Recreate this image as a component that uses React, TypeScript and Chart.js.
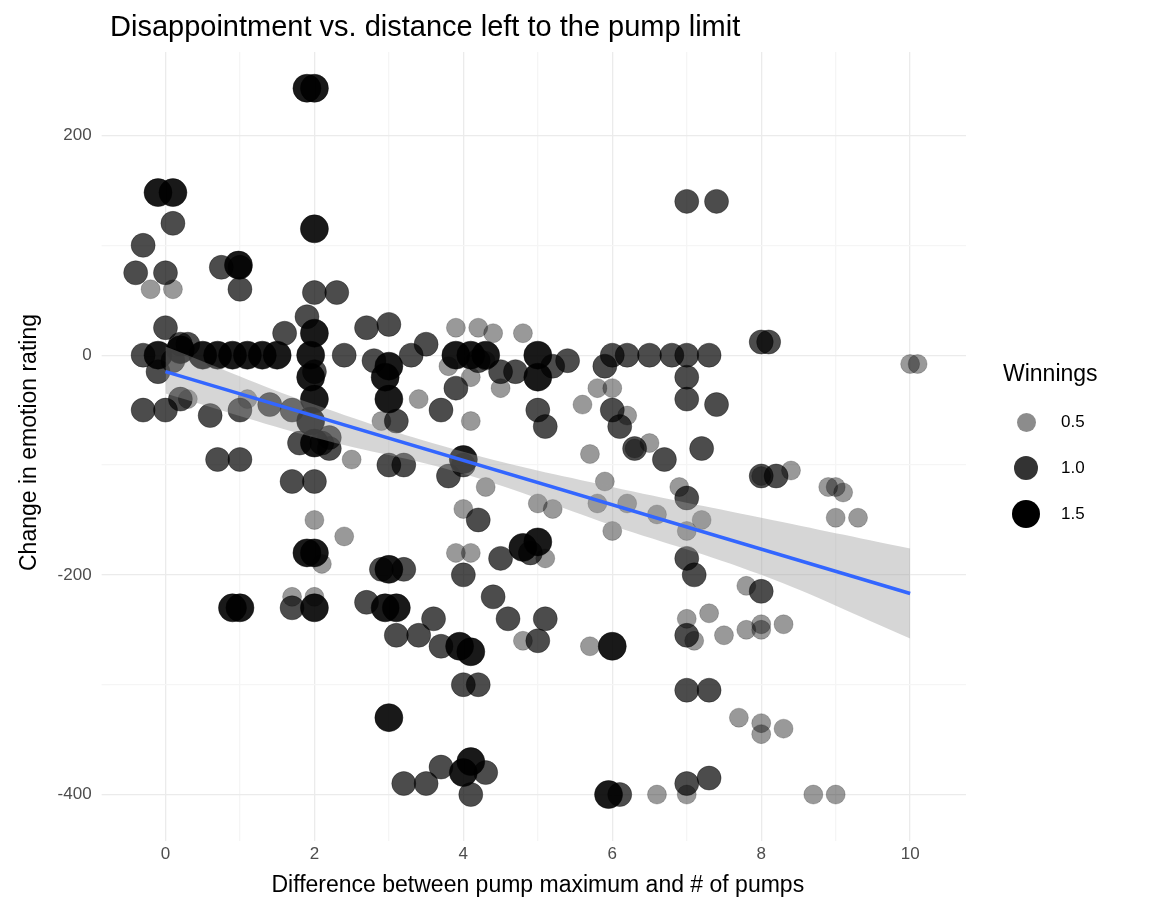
import { useEffect, useRef } from "react";
import { Chart, registerables } from "chart.js";

Chart.register(...registerables);

// [difference, change in emotion rating]
const win05: [number, number][] = [
  [-0.2, 60], [0.1, 60], [3.9, 25], [4.2, 25], [4.4, 20], [4.8, 20], [4.1, -60], [4, -140], [4.3, -120],
  [4.1, -180], [3.9, -180], [4.8, -260], [5, -135], [5.2, -140], [5.7, -90], [5.6, -45], [5.8, -30], [6, -30],
  [5.9, -115], [6.2, -135], [6.5, -80], [6.9, -120], [6.6, -145], [6, -160], [6.3, -85], [7, -160], [7.2, -150],
  [7.1, -260], [7, -240], [7.3, -235], [7.5, -255], [7.8, -250], [7.7, -330], [8, -335], [8, -345], [8.3, -340],
  [8.3, -245], [8, -250], [8, -245], [8.9, -120], [9, -120], [9, -148], [9.3, -148], [8.7, -400], [9, -400],
  [10, -8], [10.1, -8], [9.1, -125], [6.6, -400], [7, -400], [1.7, -220], [2, -220], [2, -150], [2.1, -190],
  [2.4, -165], [3.4, -40], [2.9, -60], [2.5, -95], [5.7, -265], [5.8, -135], [0.3, -40], [1.1, -40], [4.3, -5],
  [4.5, -30], [8, -110], [8.4, -105], [7.8, -210], [6.2, -55], [5.1, -185], [4.1, -20], [3.8, -10],
];
const win10: [number, number][] = [
  [0.75, 80], [1, 80], [-0.3, 100], [0.1, 120], [0, 75], [-0.4, 75], [2, 57], [2.3, 57], [0.7, -95], [1, -95],
  [1.7, -115], [2, -115], [0.2, -40], [0.6, -55], [1, -50], [1.4, -45], [2.1, -80], [3, -100], [3.2, -195],
  [2.9, -195], [3.4, -255], [3.1, -255], [3.2, -390], [3.5, -390], [3.7, -375], [4.3, -380], [4.1, -400],
  [4, -300], [4.2, -300], [3.6, -240], [4.4, -220], [4, -200], [4.6, -240], [5, -260], [5.1, -240], [4.9, -180],
  [4.5, -185], [4.7, -15], [5, -50], [5.1, -65], [4, -100], [3.8, -110], [4.2, -150], [3.9, -30], [6, -50],
  [6.3, -85], [6.1, -400], [6.7, -95], [7, -20], [7, -40], [7.2, -85], [7, -130], [7, -185], [7.1, -200],
  [7, -255], [7, -305], [7.3, -305], [7, -390], [7.3, -385], [7, 140], [7.4, 140], [7, 0], [7.3, 0], [6.5, 0],
  [6.8, 0], [6, 0], [6.2, 0], [7.4, -45], [8, -110], [8.2, -110], [8, 12], [8.1, 12], [8, -215], [2.7, 25],
  [3, 28], [3.5, 10], [2.8, -5], [3.3, 0], [2.4, 0], [1.6, 20], [1.7, -50], [-0.3, -50], [0, -50], [-0.3, 0],
  [0.1, -5], [0.2, 10], [1.8, -80], [1.7, -230], [2.2, -85], [3.1, -60], [3.7, -50], [5.4, -5], [5.2, -10],
  [3.2, -100], [2.7, -225], [0, 25], [0.3, 10], [-0.1, -15], [2.2, -75], [3.7, -265], [4.5, -15], [1, 60],
  [2, -15], [1.9, 35], [5.9, -10], [6.1, -65], [4.2, -5],
];
const win15: [number, number][] = [
  [1.9, 243], [2, 243], [-0.1, 148], [0.1, 148], [2, 115], [0.98, 82], [0.5, 0], [0.7, 0], [0.9, 0], [1.1, 0],
  [1.3, 0], [1.5, 0], [-0.1, 0], [0.2, 5], [1.95, -20], [2, -40], [1.95, -60], [2, -80], [1.95, 0], [2, 20],
  [1.9, -180], [2, -180], [1, -230], [0.9, -230], [2, -230], [3, -330], [3, -195], [3.1, -230], [2.95, -230],
  [4.1, -270], [3.95, -265], [4, -380], [4.1, -370], [6, -265], [5.95, -400], [5, 0], [5, -20], [4.1, 0],
  [3.9, 0], [4.8, -175], [5, -170], [4.3, 0], [3, -40], [3, -10], [2.95, -20], [4, -95],
];
const bandX = [0, 2, 4, 6, 8, 10];
const bandUpper = [8, -45, -88, -120, -148, -176];
const bandLower = [-35, -75, -108, -155, -200, -258];
const fitLine: [number, number][] = [[0, -15], [10, -217]];
const xTicks = [0, 1, 2, 3, 4, 5, 6, 7, 8, 9, 10];
const yTicks = [-400, -300, -200, -100, 0, 100, 200];

const toPts = (a: [number, number][]) => a.map(([x, y]) => ({ x, y }));

export default function App() {
  const canvasRef = useRef<HTMLCanvasElement>(null);

  useEffect(() => {
    if (!canvasRef.current) return;
    const pt = (alpha: number, r: number, order: number, data: [number, number][]) => ({
      type: "scatter" as const,
      data: toPts(data),
      pointRadius: r,
      pointBackgroundColor: `rgba(0,0,0,${alpha})`,
      pointBorderColor: `rgba(0,0,0,${alpha})`,
      pointBorderWidth: 0.5,
      order,
    });
    const chart = new Chart(canvasRef.current, {
      type: "scatter",
      data: {
        datasets: [
          {
            type: "line",
            data: toPts(fitLine),
            borderColor: "#3366FF",
            borderWidth: 3.5,
            pointRadius: 0,
            order: 0,
          },
          {
            type: "line",
            data: bandX.map((x, i) => ({ x, y: bandUpper[i] })),
            borderWidth: 0,
            pointRadius: 0,
            tension: 0.4,
            fill: "+1",
            backgroundColor: "rgba(153,153,153,0.4)",
            order: 1,
          },
          {
            type: "line",
            data: bandX.map((x, i) => ({ x, y: bandLower[i] })),
            borderWidth: 0,
            pointRadius: 0,
            tension: 0.4,
            fill: false,
            order: 1,
          },
          pt(0.9, 14, 2, win15),
          pt(0.7, 12, 3, win10),
          pt(0.4, 9.5, 4, win05),
        ] as any,
      },
      options: {
        animation: false,
        responsive: false,
        layout: { padding: { left: 12, right: 186, top: 52, bottom: 18 } },
        plugins: {
          legend: { display: false },
          tooltip: { enabled: false },
        },
        scales: {
          x: {
            type: "linear",
            min: -0.75,
            max: 10.75,
            ticks: { color: "#4d4d4d", font: { family: "Liberation Sans", size: 17 },
              callback: (v: any) => (Number(v) % 2 === 0 ? String(v) : "") },
            afterBuildTicks: (a: any) => { a.ticks = xTicks.map((value) => ({ value })); },
            grid: { color: (c: any) => (c.tick && c.tick.value % 2 === 0 ? "#ebebeb" : "#f5f5f5"), lineWidth: 1.3 },
            border: { display: false },
            title: { display: true, text: "Difference between pump maximum and # of pumps", color: "#000",
              font: { family: "Liberation Sans", size: 23 } },
          },
          y: {
            min: -435,
            max: 276,
            ticks: { color: "#4d4d4d", font: { family: "Liberation Sans", size: 17 }, padding: 10,
              callback: (v: any) => (Number(v) % 200 === 0 ? String(v) : "") },
            afterBuildTicks: (a: any) => { a.ticks = yTicks.map((value) => ({ value })); },
            grid: { color: (c: any) => (c.tick && c.tick.value % 200 === 0 ? "#ebebeb" : "#f5f5f5"), lineWidth: 1.3 },
            border: { display: false },
            title: { display: true, text: "Change in emotion rating", color: "#000",
              font: { family: "Liberation Sans", size: 23 } },
          },
        },
      },
    });
    return () => chart.destroy();
  }, []);

  const legend = [
    { label: "0.5", r: 9.5, a: 0.45 },
    { label: "1.0", r: 12, a: 0.8 },
    { label: "1.5", r: 14, a: 1 },
  ];

  return (
    <div style={{ position: "absolute", left: 0, top: 0, width: 1152, height: 921, background: "#fff" }}>
      <canvas ref={canvasRef} width={1152} height={921} />
      <div style={{ position: "absolute", left: 110, top: 10, fontFamily: "Liberation Sans, Arial", fontSize: 29, color: "#000" }}>
        Disappointment vs. distance left to the pump limit
      </div>
      <div style={{ position: "absolute", left: 1003, top: 360, fontFamily: "Liberation Sans, Arial", color: "#000" }}>
        <div style={{ fontSize: 23, marginBottom: 12 }}>Winnings</div>
        {legend.map((l) => (
          <div key={l.label} style={{ display: "flex", alignItems: "center", height: 46 }}>
            <div style={{ width: 46, display: "flex", justifyContent: "center" }}>
              <div style={{ width: l.r * 2, height: l.r * 2, borderRadius: "50%", background: `rgba(0,0,0,${l.a})` }} />
            </div>
            <span style={{ fontSize: 17, marginLeft: 12 }}>{l.label}</span>
          </div>
        ))}
      </div>
    </div>
  );
}
